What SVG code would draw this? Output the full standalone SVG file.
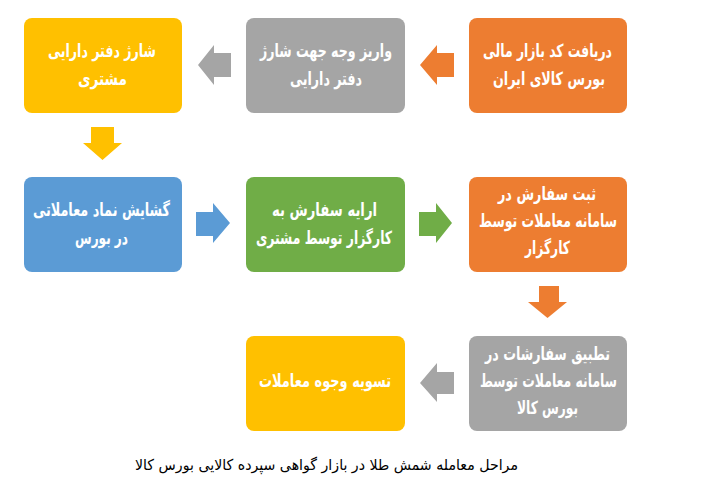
<svg xmlns="http://www.w3.org/2000/svg" width="719" height="488" viewBox="0 0 719 488">
<style>
.box{stroke:none}
.t{font-family:"DejaVu Sans","Noto Sans",sans-serif;font-weight:bold;font-size:18px;fill:#ffffff;text-anchor:middle}
.cap{font-family:"DejaVu Sans","Noto Sans",sans-serif;font-size:15px;fill:#000000;text-anchor:middle}
.yellow{fill:#FFC000}.gray{fill:#A5A5A5}.orange{fill:#ED7D31}.blue{fill:#5B9BD5}.green{fill:#70AD47}
</style>
<rect width="719" height="488" fill="#ffffff"/>
<g id="connectors">
<polygon class="gray" points="231,53 214,53 214,45 198,65 214,85 214,77 231,77"/>
<polygon class="orange" points="454,53 437,53 437,45 420,65 437,85 437,77 454,77"/>
<polygon class="yellow" points="91,127 114,127 114,143 122,143 102.5,160 83,143 91,143"/>
<polygon class="blue" points="196,212 213,212 213,203 230,223 213,243 213,236 196,236"/>
<polygon class="green" points="419,212 436,212 436,203 452,223 436,243 436,236 419,236"/>
<polygon class="orange" points="539,286 559,286 559,302 567,302 547.5,318 528,302 539,302"/>
<polygon class="gray" points="454,372 437,372 437,363 420,383 437,402 437,394 454,394"/>
</g>
<g id="n1">
<rect class="box orange" x="469" y="18" width="158" height="95" rx="8"/>
<text class="t" x="547.5" y="57" textLength="129" lengthAdjust="spacingAndGlyphs">دریافت کد بازار مالی</text>
<text class="t" x="549" y="85" textLength="112" lengthAdjust="spacingAndGlyphs">بورس کالای ایران</text>
</g>
<g id="n2">
<rect class="box gray" x="246" y="18" width="159" height="95" rx="8"/>
<text class="t" x="326" y="57" textLength="132" lengthAdjust="spacingAndGlyphs">واریز وجه جهت شارژ</text>
<text class="t" x="326" y="85" textLength="72" lengthAdjust="spacingAndGlyphs">دفتر دارایی</text>
</g>
<g id="n3">
<rect class="box yellow" x="24" y="18" width="158" height="95" rx="8"/>
<text class="t" x="102" y="57" textLength="108" lengthAdjust="spacingAndGlyphs">شارژ دفتر دارایی</text>
<text class="t" x="102.5" y="85" textLength="49" lengthAdjust="spacingAndGlyphs">مشتری</text>
</g>
<g id="n4">
<rect class="box blue" x="24" y="177" width="158" height="95" rx="8"/>
<text class="t" x="101.5" y="216" textLength="137" lengthAdjust="spacingAndGlyphs">گشایش نماد معاملاتی</text>
<text class="t" x="101.5" y="244" textLength="53" lengthAdjust="spacingAndGlyphs">در بورس</text>
</g>
<g id="n5">
<rect class="box green" x="246" y="177" width="159" height="95" rx="8"/>
<text class="t" x="324.5" y="216" textLength="105" lengthAdjust="spacingAndGlyphs">ارایه سفارش به</text>
<text class="t" x="324" y="244" textLength="136" lengthAdjust="spacingAndGlyphs">کارگزار توسط مشتری</text>
</g>
<g id="n6">
<rect class="box orange" x="469" y="177" width="158" height="95" rx="8"/>
<text class="t" x="547" y="200" textLength="98" lengthAdjust="spacingAndGlyphs">ثبت سفارش در</text>
<text class="t" x="548" y="227" textLength="138" lengthAdjust="spacingAndGlyphs">سامانه معاملات توسط</text>
<text class="t" x="547.5" y="254" textLength="45" lengthAdjust="spacingAndGlyphs">کارگزار</text>
</g>
<g id="n7">
<rect class="box gray" x="469" y="336" width="158" height="95" rx="8"/>
<text class="t" x="547.5" y="360" textLength="125" lengthAdjust="spacingAndGlyphs">تطبیق سفارشات در</text>
<text class="t" x="548.5" y="387" textLength="137" lengthAdjust="spacingAndGlyphs">سامانه معاملات توسط</text>
<text class="t" x="547.5" y="414" textLength="61" lengthAdjust="spacingAndGlyphs">بورس کالا</text>
</g>
<g id="n8">
<rect class="box yellow" x="246" y="336" width="159" height="95" rx="8"/>
<text class="t" x="325" y="387" textLength="132" lengthAdjust="spacingAndGlyphs">تسویه وجوه معاملات</text>
</g>
<text class="cap" x="326.5" y="470" textLength="383" lengthAdjust="spacingAndGlyphs">مراحل معامله شمش طلا در بازار گواهی سپرده کالایی بورس کالا</text>
</svg>
